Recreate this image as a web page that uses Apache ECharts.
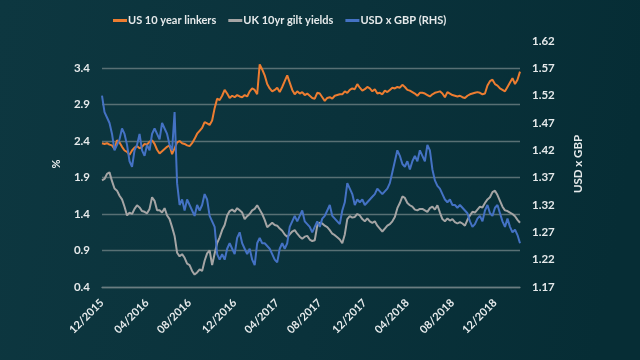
<!DOCTYPE html>
<html><head><meta charset="utf-8">
<script src="https://cdn.jsdelivr.net/npm/echarts@6/dist/echarts.min.js"></script>
<style>html,body{margin:0;padding:0;background:#0a323b}#c{width:640px;height:360px}</style>
</head><body><div id="c"></div>
<script>
// Weekly observations starting 1 Dec 2015
const startDate = [2015, 11, 1];
const weekCount = 168;
const tickLabels = ['12/2015','04/2016','08/2016','12/2016','04/2017','08/2017','12/2017','04/2018','08/2018','12/2018'];
const leftTicks = [0.4, 0.9, 1.4, 1.9, 2.4, 2.9, 3.4];
const rightTicks = [1.17, 1.22, 1.27, 1.32, 1.37, 1.42, 1.47, 1.52, 1.57, 1.62];

const usLinkers = [
 2.37,2.36,2.37,2.35,2.34,2.29,2.41,2.38,2.32,2.27,2.25,2.21,2.27,2.31,2.33,2.30,2.32,2.36,2.35,2.39,2.41,2.36,2.28,2.23,2.26,2.29,2.32,2.34,2.22,2.30,2.38,2.40,2.37,2.36,2.34,2.33,2.37,2.43,2.50,2.54,2.58,2.66,2.64,2.62,
 2.68,2.85,2.98,2.96,3.02,3.10,3.05,2.99,3.02,3.00,3.03,3.01,3.00,3.03,3.01,3.08,3.12,3.10,3.04,3.45,3.38,3.30,3.18,3.12,3.08,3.10,3.13,3.07,3.14,3.22,3.30,3.20,3.10,3.04,3.08,3.05,3.07,3.03,3.05,3.02,2.99,2.98,
 3.06,3.05,3.00,2.95,2.99,3.00,2.98,3.02,3.03,3.04,3.04,3.08,3.06,3.10,3.12,3.11,3.18,3.13,3.09,3.11,3.14,3.12,3.08,3.11,3.05,3.06,3.04,3.09,3.07,3.10,3.13,3.12,3.14,3.13,3.17,3.14,3.10,3.09,3.07,3.05,3.02,3.06,
 3.06,3.05,3.03,3.01,3.04,3.06,3.07,3.08,3.05,3.00,3.07,3.05,3.03,3.02,3.01,3.02,3.00,2.99,3.02,3.04,3.05,3.06,3.07,3.06,3.04,3.05,3.16,3.22,3.24,3.18,3.16,3.12,3.10,3.08,3.14,3.20,3.26,3.18,3.24,3.35
];
const ukGilts = [
 1.86,1.88,1.95,1.97,1.85,1.75,1.72,1.65,1.60,1.50,1.38,1.42,1.40,1.47,1.52,1.49,1.44,1.43,1.41,1.47,1.63,1.58,1.45,1.45,1.42,1.48,1.38,1.33,1.22,1.10,0.87,0.82,0.85,0.80,0.72,0.70,0.62,0.57,0.60,0.64,0.62,0.76,0.86,0.90,
 0.70,0.86,1.00,1.08,1.18,1.25,1.38,1.44,1.46,1.43,1.48,1.45,1.42,1.33,1.37,1.40,1.45,1.47,1.52,1.46,1.40,1.32,1.22,1.25,1.28,1.25,1.24,1.20,1.17,1.12,1.09,1.12,1.16,1.18,1.13,1.09,1.06,1.09,1.10,1.05,1.03,1.04,
 1.24,1.28,1.27,1.24,1.22,1.18,1.13,1.11,1.08,1.05,1.00,1.12,1.33,1.37,1.35,1.36,1.40,1.38,1.33,1.30,1.34,1.30,1.28,1.30,1.24,1.20,1.16,1.20,1.24,1.26,1.30,1.36,1.48,1.55,1.64,1.62,1.55,1.52,1.50,1.46,1.45,1.47,
 1.47,1.45,1.43,1.48,1.50,1.46,1.52,1.42,1.33,1.30,1.34,1.31,1.33,1.29,1.27,1.29,1.27,1.24,1.32,1.38,1.43,1.42,1.46,1.50,1.49,1.55,1.60,1.63,1.70,1.72,1.66,1.58,1.50,1.45,1.44,1.42,1.40,1.37,1.32,1.28
];
const usdGbp = [
 1.52,1.49,1.48,1.47,1.45,1.42,1.43,1.44,1.46,1.45,1.43,1.40,1.39,1.42,1.43,1.45,1.42,1.41,1.43,1.42,1.45,1.46,1.45,1.44,1.47,1.46,1.45,1.43,1.42,1.49,1.36,1.32,1.33,1.31,1.33,1.32,1.31,1.30,1.32,1.31,1.32,1.34,1.33,1.30,
 1.29,1.28,1.23,1.22,1.23,1.22,1.24,1.25,1.24,1.23,1.26,1.27,1.25,1.24,1.23,1.24,1.22,1.21,1.25,1.26,1.25,1.25,1.245,1.24,1.23,1.22,1.215,1.24,1.25,1.24,1.25,1.28,1.29,1.30,1.29,1.30,1.31,1.29,1.285,1.28,1.27,1.28,
 1.29,1.28,1.295,1.30,1.31,1.32,1.30,1.295,1.29,1.285,1.31,1.325,1.36,1.35,1.34,1.32,1.33,1.325,1.33,1.32,1.325,1.33,1.335,1.34,1.35,1.345,1.34,1.345,1.35,1.36,1.38,1.40,1.42,1.41,1.395,1.39,1.40,1.385,1.40,1.41,1.40,1.42,
 1.41,1.40,1.43,1.42,1.385,1.365,1.355,1.35,1.34,1.33,1.325,1.33,1.32,1.32,1.315,1.32,1.315,1.31,1.305,1.29,1.28,1.285,1.295,1.30,1.29,1.31,1.32,1.305,1.30,1.315,1.32,1.305,1.29,1.28,1.295,1.28,1.27,1.275,1.265,1.25
];

const pad = n => (n < 10 ? '0' : '') + n;
const dates = [];
for (let i = 0; i < weekCount; i++) {
  const d = new Date(Date.UTC(startDate[0], startDate[1], startDate[2]) + i * 7 * 86400000);
  dates.push(d.getUTCFullYear() + '-' + pad(d.getUTCMonth() + 1) + '-' + pad(d.getUTCDate()));
}
const monthLabel = s => s.slice(5, 7) + '/' + s.slice(0, 4);
const shownIdx = new Set();
dates.forEach((s, i) => {
  const m = monthLabel(s);
  if (tickLabels.includes(m) && (i === 0 || monthLabel(dates[i - 1]) !== m)) shownIdx.add(i);
});

const txt = '#e6eaeb';
const ff = 'Lato, "Liberation Sans", Arial, sans-serif';
const chart = echarts.init(document.getElementById('c'));
chart.setOption({
  backgroundColor: {
    type: 'linear', x: 0, y: 0, x2: 1, y2: 0.3,
    colorStops: [{ offset: 0, color: '#0d3740' }, { offset: 0.55, color: '#0a323b' }, { offset: 1, color: '#062d35' }]
  },
  animation: false,
  textStyle: { fontFamily: ff },
  legend: {
    left: 108, top: 10, icon: 'rect', itemWidth: 14, itemHeight: 3, itemGap: 12,
    textStyle: { color: txt, fontSize: 11, fontWeight: 'bold', fontFamily: ff, padding: [0, 0, 0, -4] },
    data: ['US 10 year linkers', 'UK 10yr gilt yields', 'USD x GBP (RHS)']
  },
  grid: { left: 102, right: 120, top: 41, bottom: 73 },
  xAxis: {
    type: 'category', data: dates, boundaryGap: false,
    axisLine: { show: true, lineStyle: { color: '#6a7d81', width: 1.3 } },
    axisTick: { show: false },
    splitLine: { show: false },
    axisLabel: {
      interval: (i) => shownIdx.has(i), rotate: 45, margin: 14,
      formatter: v => monthLabel(v), color: txt, fontSize: 11, fontWeight: 'bold', fontFamily: ff
    }
  },
  yAxis: [
    {
      type: 'value', min: leftTicks[0], max: 3.77, interval: 0.5,
      name: '%', nameLocation: 'middle', nameGap: 40,
      nameTextStyle: { color: txt, fontSize: 11, fontWeight: 'bold', fontFamily: ff },
      axisLine: { show: false }, axisTick: { show: false },
      axisLabel: { formatter: v => v.toFixed(1), showMaxLabel: false, color: txt, fontSize: 11.5, fontWeight: 'bold', margin: 12, fontFamily: ff },
      splitLine: { show: true, showMaxLine: false, lineStyle: { color: '#587074', width: 1.3 } }
    },
    {
      type: 'value', min: rightTicks[0], max: rightTicks[rightTicks.length - 1], interval: 0.05, position: 'right',
      name: 'USD x GBP', nameLocation: 'middle', nameGap: 52, nameRotate: 90,
      nameTextStyle: { color: txt, fontSize: 11.5, fontWeight: 'bold', fontFamily: ff },
      axisLine: { show: false }, axisTick: { show: false },
      axisLabel: { formatter: v => v.toFixed(2), color: txt, fontSize: 11.5, fontWeight: 'bold', margin: 12, fontFamily: ff },
      splitLine: { show: false }
    }
  ],
  series: [
    { name: 'US 10 year linkers', type: 'line', data: usLinkers, yAxisIndex: 0, showSymbol: false, color: '#ed7d31', lineStyle: { width: 2 } },
    { name: 'UK 10yr gilt yields', type: 'line', data: ukGilts, yAxisIndex: 0, showSymbol: false, color: '#a5a5a5', lineStyle: { width: 2 } },
    { name: 'USD x GBP (RHS)', type: 'line', data: usdGbp, yAxisIndex: 1, showSymbol: false, color: '#4472c4', lineStyle: { width: 2 } }
  ]
});
</script></body></html>
